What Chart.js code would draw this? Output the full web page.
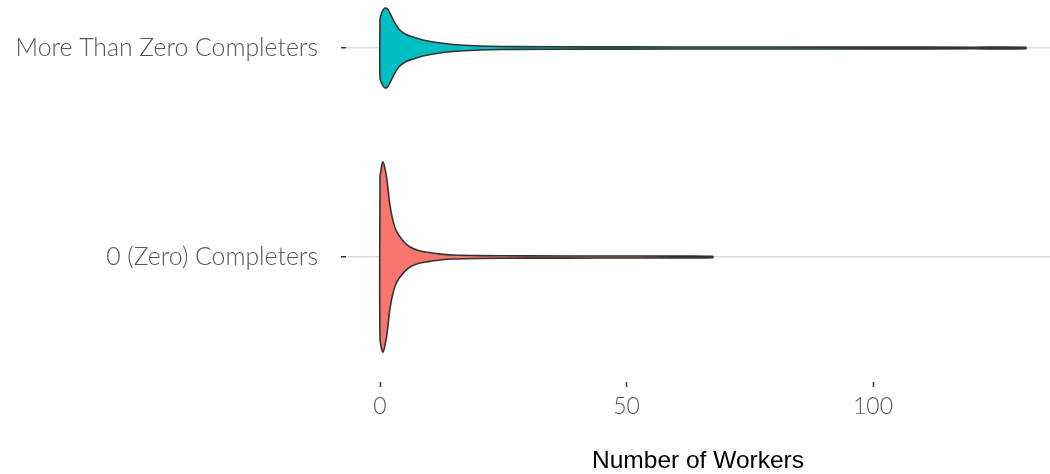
<!DOCTYPE html>
<html lang="en">
<head>
<meta charset="UTF-8">
<title>Number of Workers</title>
<script src="https://cdn.jsdelivr.net/npm/chart.js"></script>
<style>
  body { margin: 0; background: #fff; }
  .wrap { width: 1050px; height: 474px; position: relative; }
</style>
</head>
<body>
<div class="wrap">
  <canvas id="violin"></canvas>
</div>
<script>
// categories, bottom to top
const categories = ['0 (Zero) Completers', 'More Than Zero Completers'];
const xTicks = [0, 50, 100];

// violin outlines: worker counts and half-width of the density (in category units)
const zeroX     = [0, 0.6, 1.35, 2.0, 2.7, 3.4, 4.7, 6.1, 8.1, 10.1, 12.2, 14.8, 20, 30, 45, 60, 67.5];
const zeroWidth = [0.39, 0.455, 0.378, 0.249, 0.167, 0.12, 0.077, 0.048, 0.029, 0.021, 0.014, 0.0096, 0.0068, 0.0055, 0.0048, 0.0042, 0.003];

const moreX     = [0, 0.5, 1.0, 1.5, 2.0, 3.0, 4.0, 5.5, 6.7, 8.7, 11.5, 14.8, 18.2, 22, 28, 40, 60, 80, 100, 120, 131];
const moreWidth = [0.144, 0.177, 0.191, 0.187, 0.167, 0.12, 0.086, 0.062, 0.053, 0.038, 0.026, 0.017, 0.012, 0.0086, 0.0065, 0.0055, 0.005, 0.0046, 0.0042, 0.0038, 0.0034];

function violinPoints(xs, ws, center) {
  var pts = [];
  for (var i = 0; i < xs.length; i++) pts.push({x: xs[i], y: center + ws[i]});
  for (var j = xs.length - 1; j >= 0; j--) pts.push({x: xs[j], y: center - ws[j]});
  pts.push(pts[0]);
  return pts;
}

function violin(label, xs, ws, center, colour) {
  return {
    label: label,
    data: violinPoints(xs, ws, center),
    showLine: true,
    fill: 'shape',
    backgroundColor: colour,
    borderColor: '#333333',
    borderWidth: 1.6,
    pointRadius: 0,
    tension: 0.3
  };
}

Chart.defaults.font.family = 'Lato';

new Chart(document.getElementById('violin'), {
  type: 'scatter',
  data: {
    datasets: [
      violin(categories[0], zeroX, zeroWidth, 1, '#F8766D'),
      violin(categories[1], moreX, moreWidth, 2, '#00BFC4')
    ]
  },
  options: {
    responsive: true,
    maintainAspectRatio: false,
    animation: false,
    layout: { padding: 0 },
    plugins: { legend: { display: false }, tooltip: { enabled: false } },
    scales: {
      x: {
        type: 'linear',
        min: -6.9,
        max: 135.9,
        afterBuildTicks: function (s) { s.ticks = xTicks.map(function (v) { return {value: v}; }); },
        afterFit: function (s) { s.height = 92; s.paddingLeft = 0; s.paddingRight = 0; },
        border: { display: false },
        grid: { drawOnChartArea: false, tickLength: 5, tickColor: '#333333', tickWidth: 1.5 },
        ticks: { color: '#555555', font: { size: 23, weight: '300' }, padding: 6 },
        title: {
          display: true,
          text: 'Number of Workers',
          color: '#000000',
          font: { family: 'Liberation Sans', size: 24.5 },
          padding: { top: 0, bottom: -1.5 }
        }
      },
      y: {
        type: 'linear',
        min: 0.402,
        max: 2.2297,
        afterBuildTicks: function (s) { s.ticks = [{value: 1}, {value: 2}]; },
        afterFit: function (s) { s.width = 346; s.paddingTop = 0; s.paddingBottom = 0; },
        border: { display: false },
        grid: { color: '#DDDDDD', lineWidth: 1.5, tickLength: 5, tickColor: '#333333', tickWidth: 1.5 },
        ticks: {
          color: '#555555',
          font: { size: 24.8, weight: '300' },
          padding: 23,
          callback: function (v) { return categories[v - 1]; }
        }
      }
    }
  }
});
</script>
</body>
</html>
